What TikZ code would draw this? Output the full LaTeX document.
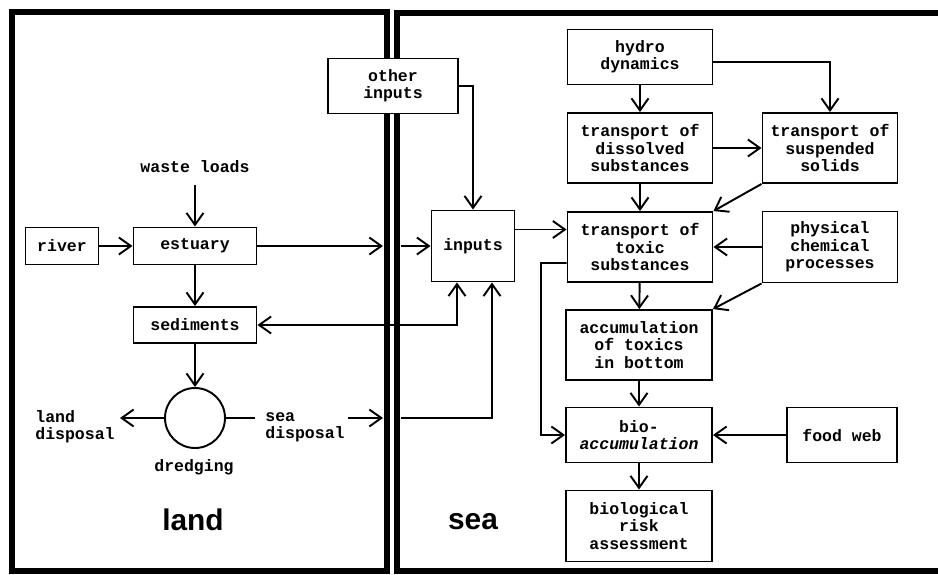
\documentclass[tikz,border=0pt]{standalone}
\usepackage{fontspec}
\setmainfont{Liberation Mono}
\newfontfamily\areafont{Liberation Sans}
\usetikzlibrary{arrows.meta}

\tikzset{
  box/.style={draw, line width=1.1pt, fill=white, align=center, inner sep=0pt,
    font=\bfseries\fontsize{9.4}{9.9}\selectfont},
  txt/.style={align=left, inner sep=0pt, font=\bfseries\fontsize{9.4}{9.9}\selectfont},
  link/.style={line width=1.1pt, -{Straight Barb[length=2.4mm,width=3.4mm]}},
  plain/.style={line width=1.1pt},
  frame/.style={line width=3.4pt},
  area/.style={font=\areafont\bfseries\fontsize{17}{17}\selectfont}
}

\begin{document}
\begin{tikzpicture}[x=0.02cm, y=-0.02cm]
    \useasboundingbox (0,0) rectangle (938,575);

    % Frames of the two areas
    \draw[frame] (12,12) rectangle (387,571);
    \draw[frame] (938,13) -- (397,13) -- (397,571) -- (938,571);

    % Area names
    \node[area] (landlbl) at (193,520) {land};
    \node[area] (sealbl) at (473,522) {sea};

    % Land side
    \node[box, minimum width=1.46cm, minimum height=0.74cm] (river) at (62,246) {river};
    \node[box, minimum width=2.46cm, minimum height=0.74cm] (estuary) at (195,246) {estuary};
    \node[box, minimum width=2.46cm, minimum height=0.72cm] (sediments) at (195,325) {sediments};
    \node[txt] (waste) at (195,167) {waste loads};
    \node[draw, circle, line width=1.1pt, minimum size=1.2cm, inner sep=0pt] (dredging) at (195,418) {};
    \node[txt] (dredglbl) at (194,467) {dredging};
    \node[txt, anchor=west] (landdisp) at (35,427) {land\\disposal};
    \node[txt, anchor=west] (seadisp) at (265,427) {sea\\disposal};

    % Boxes on the boundary and in the sea
    \node[box, minimum width=2.6cm, minimum height=1.1cm] (other) at (393,86) {other\\inputs};
    \node[box, minimum width=1.66cm, minimum height=1.42cm] (inputs) at (473,246) {inputs};
    \node[box, minimum width=2.9cm, minimum height=1.1cm] (hydro) at (640,57) {hydro\\dynamics};
    \node[box, minimum width=2.9cm, minimum height=1.4cm] (dissolved) at (640,148) {transport of\\dissolved\\substances};
    \node[box, minimum width=2.7cm, minimum height=1.4cm] (suspended) at (830,148) {transport of\\suspended\\solids};
    \node[box, minimum width=2.9cm, minimum height=1.4cm] (toxic) at (640,247) {transport of\\toxic\\substances};
    \node[box, minimum width=2.7cm, minimum height=1.42cm] (physical) at (830,247) {physical\\chemical\\processes};
    \node[box, minimum width=2.92cm, minimum height=1.4cm] (accum) at (639,345) {accumulation\\of toxics\\in bottom};
    \node[box, minimum width=2.92cm, minimum height=1.1cm] (bioacc) at (639,435) {bio-\\\textit{accumulation}};
    \node[box, minimum width=2.2cm, minimum height=1.1cm] (foodweb) at (842,435) {food web};
    \node[box, minimum width=2.92cm, minimum height=1.42cm] (risk) at (639,526) {biological\\risk\\assessment};

    % Free ends at the boundary
    \coordinate (wastefoot) at (195,185);
    \coordinate (estout) at (383,246);
    \coordinate (estin) at (401,246);
    \coordinate (landend) at (120,418);
    \coordinate (seastart) at (255,418);
    \coordinate (seaarr) at (348,418);
    \coordinate (seaout) at (383,418);
    \coordinate (seain) at (401,418);
    \coordinate (toxbend) at (541,263);

    % Land connectors
    \draw[link] (wastefoot) -- (estuary.north);
    \draw[link] (river) -- (estuary);
    \draw[link] (estuary.east) -- (estout);
    \draw[link] (estin) -- (inputs.west);
    \draw[link] (estuary) -- (sediments);
    \draw[link] (sediments) -- (dredging);
    \draw[link] (dredging.west) -- (landend);
    \draw[plain] (dredging.east) -- (seastart);
    \draw[link] (seaarr) -- (seaout);

    % Exchange with the sea
    \draw[link] (other.east) -| (inputs.north);
    \draw[line width=1.1pt, {Straight Barb[length=2.4mm,width=3.4mm]}-{Straight Barb[length=2.4mm,width=3.4mm]}]
        (sediments.east) -| ([xshift=-0.32cm]inputs.south);
    \draw[link] (seain) -| ([xshift=0.38cm]inputs.south);

    % Sea connectors
    \draw[link] ([yshift=0.33cm]inputs.east) -- ([yshift=0.33cm]inputs.east -| toxic.west);
    \draw[link] (hydro) -- (dissolved);
    \draw[link] ([yshift=-0.1cm]hydro.east) -| (suspended.north);
    \draw[link] (dissolved) -- (suspended);
    \draw[link] (dissolved) -- (toxic);
    \draw[link] (suspended.south west) -- (toxic.north east);
    \draw[link] (physical) -- (toxic);
    \draw[link] (toxic) -- (accum);
    \draw[link] (physical.south west) -- (accum.north east);
    \draw[link] ([yshift=-0.32cm]toxic.west) -- (toxbend) |- (bioacc.west);
    \draw[link] (accum) -- (bioacc);
    \draw[link] (foodweb) -- (bioacc);
    \draw[link] (bioacc) -- (risk);

\end{tikzpicture}
\end{document}
